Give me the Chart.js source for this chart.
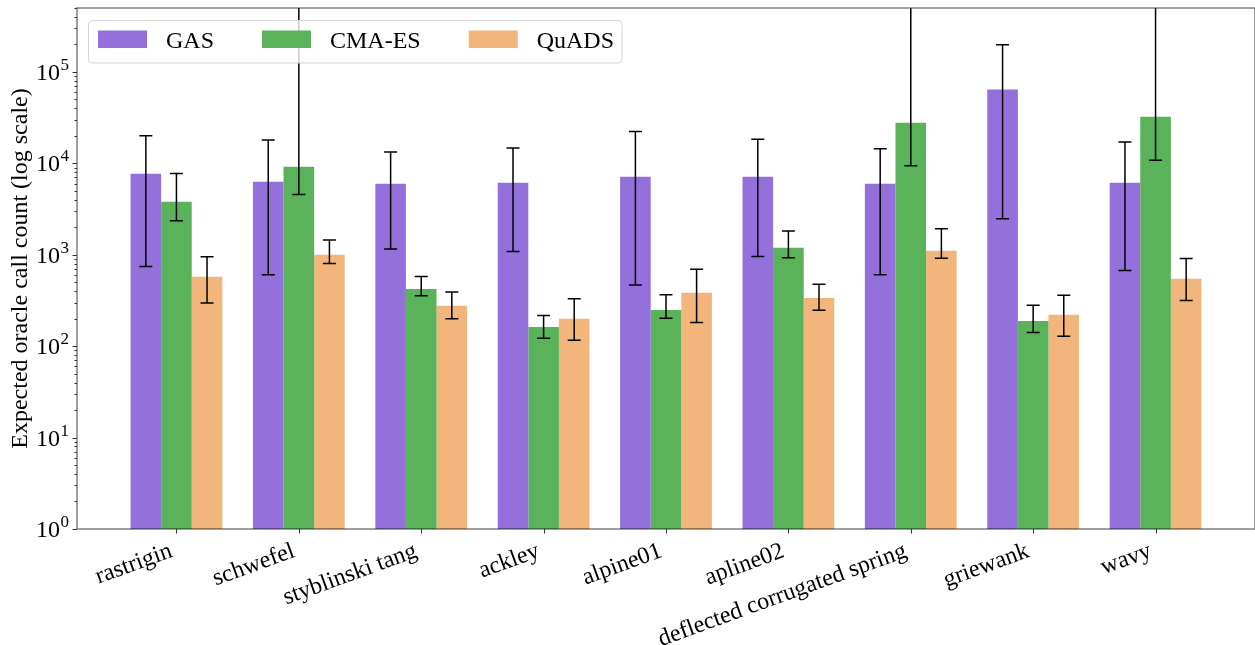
<!DOCTYPE html>
<html>
<head>
<meta charset="utf-8">
<script src="https://cdn.jsdelivr.net/npm/chart.js@4.4.1/dist/chart.umd.min.js"></script>
<style>
  html, body { margin: 0; padding: 0; background: #fff; }
  #chartCanvas { display: block; }
</style>
</head>
<body>
<canvas id="chartCanvas" width="1255" height="645"></canvas>
<script>
// --- values ---
const functions = ["rastrigin", "schwefel", "styblinski tang", "ackley", "alpine01",
  "apline02", "deflected corrugated spring", "griewank", "wavy"];

const gasMean = [7690, 6290, 5980, 6130, 7130, 7130, 5980, 64000, 6130];
const gasLow  = [743, 603, 1155, 1083, 468, 955, 603, 2470, 671];
const gasHigh = [20000, 18000, 13300, 14700, 22300, 18300, 14450, 197800, 17100];

const cmaMean = [3800, 9180, 423, 162, 249, 1190, 27800, 189, 32400];
const cmaLow  = [2350, 4560, 355, 122, 202, 925, 9410, 141, 10770];
const cmaHigh = [7750, 1200000, 577, 216, 364, 1815, 1200000, 281, 1200000];

const quadsMean = [573, 997, 276, 199, 383, 337, 1104, 220, 545];
const quadsLow  = [297, 801, 200, 116, 181, 247, 918, 128, 315];
const quadsHigh = [948, 1445, 392, 331, 695, 476, 1922, 361, 908];

const seriesNames = ["GAS", "CMA-ES", "QuADS"];
const seriesColors = ["#9370DB", "#5AB35A", "#F2B57B"];

const yMin = 1;
const yMax = 5e5;
const decades = [0, 1, 2, 3, 4, 5];

const FONT = "Liberation Serif";

// --- helpers ---
function points(values) {
  return values.map((v, i) => ({ x: i, y: v }));
}

// error bars, clipped to the axes box like matplotlib does
const errorBars = {
  id: "errorBars",
  afterDatasetsDraw(chart) {
    const { ctx, chartArea: a, scales: { y } } = chart;
    ctx.save();
    ctx.beginPath();
    ctx.rect(a.left, a.top, a.right - a.left, a.bottom - a.top);
    ctx.clip();
    ctx.strokeStyle = "#000";
    ctx.lineWidth = 1.5;
    chart.data.datasets.forEach((ds, i) => {
      chart.getDatasetMeta(i).data.forEach((bar, j) => {
        const x = bar.x;
        const yLo = y.getPixelForValue(ds.errLow[j]);
        const yHi = y.getPixelForValue(ds.errHigh[j]);
        ctx.beginPath();
        ctx.moveTo(x, yLo); ctx.lineTo(x, yHi);
        ctx.moveTo(x - 6.5, yLo); ctx.lineTo(x + 6.5, yLo);
        ctx.moveTo(x - 6.5, yHi); ctx.lineTo(x + 6.5, yHi);
        ctx.stroke();
      });
    });
    ctx.restore();
  }
};

// spines, tick marks, 10^n labels and the legend box
const axesDecor = {
  id: "axesDecor",
  afterDraw(chart) {
    const { ctx, chartArea: a, scales: { x, y } } = chart;
    ctx.save();

    // spines
    ctx.strokeStyle = "rgba(0,0,0,0.5)";
    ctx.lineWidth = 1.5;
    ctx.strokeRect(a.left, a.top, a.right - a.left, a.bottom - a.top);

    // x ticks
    ctx.strokeStyle = "#333";
    ctx.lineWidth = 1;
    functions.forEach((_, i) => {
      const px = Math.round(x.getPixelForValue(i)) + 0.5;
      ctx.beginPath();
      ctx.moveTo(px, a.bottom);
      ctx.lineTo(px, a.bottom + 4.5);
      ctx.stroke();
    });

    // y ticks, major and minor
    decades.forEach(d => {
      for (let m = 1; m <= 9; m++) {
        const v = m * Math.pow(10, d);
        if (v > yMax) break;
        const py = Math.round(y.getPixelForValue(v)) + 0.5;
        const len = m === 1 ? 4.5 : 2.5;
        ctx.beginPath();
        ctx.moveTo(a.left, py);
        ctx.lineTo(a.left - len, py);
        ctx.stroke();
      }
    });

    // y tick labels as 10 with a raised exponent
    ctx.fillStyle = "#000";
    decades.forEach(d => {
      const py = y.getPixelForValue(Math.pow(10, d));
      const exp = String(d);
      ctx.font = `17px "${FONT}"`;
      const expW = ctx.measureText(exp).width;
      const right = a.left - 8;
      ctx.textBaseline = "alphabetic";
      ctx.textAlign = "left";
      ctx.fillText(exp, right - expW, py - 2);
      ctx.font = `24px "${FONT}"`;
      ctx.textAlign = "right";
      ctx.fillText("10", right - expW - 0.5, py + 8);
    });

    // legend
    ctx.font = `24px "${FONT}"`;
    const left = 88.5, top = 20.5, h = 42.5;
    const items = [];
    let cx = 98;
    seriesNames.forEach((name, i) => {
      const tw = ctx.measureText(name).width;
      items.push({ name, color: seriesColors[i], px: cx, tx: cx + 68 });
      cx = cx + 68 + tw + 48;
    });
    const last = items[items.length - 1];
    const right = last.tx + ctx.measureText(last.name).width + 8;
    ctx.beginPath();
    ctx.roundRect(left, top, right - left, h, 4);
    ctx.fillStyle = "rgba(255,255,255,0.8)";
    ctx.fill();
    ctx.strokeStyle = "#d6d6d6";
    ctx.lineWidth = 1;
    ctx.stroke();
    items.forEach(it => {
      ctx.fillStyle = it.color;
      ctx.fillRect(it.px, 30.5, 49, 17.5);
      ctx.fillStyle = "#000";
      ctx.textAlign = "left";
      ctx.textBaseline = "alphabetic";
      ctx.fillText(it.name, it.tx, 48.4);
    });

    ctx.restore();
  }
};

const canvas = document.getElementById("chartCanvas");

new Chart(canvas, {
  type: "bar",
  data: {
    datasets: [
      { label: seriesNames[0], data: points(gasMean), errLow: gasLow, errHigh: gasHigh,
        backgroundColor: seriesColors[0] },
      { label: seriesNames[1], data: points(cmaMean), errLow: cmaLow, errHigh: cmaHigh,
        backgroundColor: seriesColors[1] },
      { label: seriesNames[2], data: points(quadsMean), errLow: quadsLow, errHigh: quadsHigh,
        backgroundColor: seriesColors[2] }
    ]
  },
  options: {
    responsive: false,
    animation: false,
    devicePixelRatio: 1,
    layout: { padding: { top: 8, right: 0, left: 0, bottom: 0 } },
    datasets: { bar: { categoryPercentage: 0.75, barPercentage: 1.0, borderWidth: 0 } },
    plugins: {
      legend: { display: false },
      tooltip: { enabled: false }
    },
    scales: {
      x: {
        type: "linear",
        offset: false,
        min: -0.8125,
        max: 8.8125,
        grid: { display: false, drawTicks: false, offset: false },
        border: { display: false },
        afterBuildTicks: s => { s.ticks = functions.map((_, i) => ({ value: i })); },
        afterFit: s => { s.height = 116; },
        ticks: {
          autoSkip: false,
          minRotation: 20,
          maxRotation: 20,
          padding: 8,
          labelOffset: -5,
          color: "#000",
          font: { family: FONT, size: 24 },
          callback: v => functions[v] ?? ""
        }
      },
      y: {
        type: "logarithmic",
        min: yMin,
        max: yMax,
        grid: { display: false, drawTicks: false },
        border: { display: false },
        afterFit: s => { s.width = 77; },
        ticks: { display: false },
        title: {
          display: true,
          text: "Expected oracle call count (log scale)",
          color: "#000",
          font: { family: FONT, size: 24 },
          padding: { top: 6, bottom: 0 }
        }
      }
    }
  },
  plugins: [errorBars, axesDecor]
});
</script>
</body>
</html>
